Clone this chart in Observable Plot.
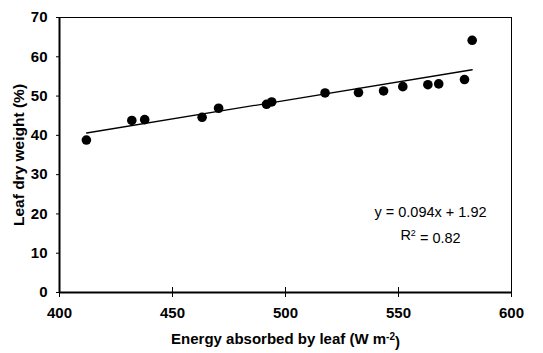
<!DOCTYPE html>
<html><head><meta charset="utf-8">
<script src="https://cdn.jsdelivr.net/npm/d3@7"></script>
<script src="https://cdn.jsdelivr.net/npm/@observablehq/plot@0.6"></script>
<style>body{margin:0;background:#fff}</style>
</head><body><div id="chart"></div>
<script>
const energy    = [411.9, 432.0, 437.7, 463.1, 470.4, 491.6, 493.9, 517.5, 532.3, 543.4, 551.9, 563.0, 567.8, 579.2, 582.6];
const dryWeight = [38.8, 43.8, 44.0, 44.6, 46.9, 47.9, 48.5, 50.8, 50.9, 51.3, 52.4, 52.9, 53.1, 54.2, 64.2];
const trendEnergy = [412.0, 582.6];
const trendWeight = [40.6, 56.7];
const xTicks = [400, 450, 500, 550, 600];
const yTicks = [0, 10, 20, 30, 40, 50, 60, 70];
const xTitle = "Energy absorbed by leaf (W m-2)";
const yTitle = "Leaf dry weight (%)";
const equationText = "y = 0.094x + 1.92";
const r2Text = "R2 = 0.82";

const points = energy.map((e, i) => ({energy: e, weight: dryWeight[i]}));
const trend = trendEnergy.map((e, i) => ({energy: e, weight: trendWeight[i]}));

const chart = Plot.plot({
  width: 543,
  height: 353,
  marginLeft: 59,
  marginRight: 32,
  marginTop: 17,
  marginBottom: 61,
  style: {fontFamily: "'Liberation Sans', Arial, sans-serif", fontSize: "14px", color: "#000", background: "#fff", overflow: "visible"},
  x: {domain: [xTicks[0], xTicks[xTicks.length - 1]]},
  y: {domain: [yTicks[0], yTicks[yTicks.length - 1]]},
  marks: [
    Plot.frame({stroke: "#000", strokeWidth: 1}),
    Plot.ruleX([xTicks[0]], {stroke: "#000", strokeWidth: 2}),
    Plot.ruleY([yTicks[0]], {stroke: "#000", strokeWidth: 2}),
    Plot.axisY(yTicks, {tickSize: 3, tickPadding: 9, fontWeight: "bold", fontSize: 15, label: null}),
    Plot.axisX(xTicks, {tickSize: 10, dy: -5, text: null, label: null}),
    Plot.axisX(xTicks, {tickSize: 0, tickPadding: 15, fontWeight: "bold", fontSize: 15, label: null}),
    Plot.line(trend, {x: "energy", y: "weight", stroke: "#000", strokeWidth: 1.3}),
    Plot.dot(points, {x: "energy", y: "weight", r: 4.8, fill: "#000", stroke: "none"}),
    Plot.text([xTitle], {frameAnchor: "bottom", dy: 47, textAnchor: "middle", lineAnchor: "middle", text: d => d, fontWeight: "bold", fontSize: 15}),
    Plot.text([yTitle], {frameAnchor: "left", dx: -40, rotate: -90, textAnchor: "middle", lineAnchor: "middle", text: d => d, fontWeight: "bold", fontSize: 15.5}),
    Plot.text([equationText], {frameAnchor: "bottom-right", dx: -81, dy: -80, textAnchor: "middle", lineAnchor: "middle", text: d => d, fontSize: 14.5}),
    Plot.text([r2Text], {frameAnchor: "bottom-right", dx: -81, dy: -57, textAnchor: "middle", lineAnchor: "middle", text: d => d, fontSize: 14.5})
  ]
});
document.getElementById("chart").appendChild(chart);

// superscripts
d3.select(chart).selectAll("text").each(function() {
  const t = this.textContent;
  if (t === xTitle) {
    const el = d3.select(this).text("Energy absorbed by leaf (W m");
    el.append("tspan").attr("dy", "-0.45em").attr("font-size", "10px").text("-2");
    el.append("tspan").attr("dy", "0.45em").text(")");
  } else if (t === r2Text) {
    const el = d3.select(this).text("R");
    el.append("tspan").attr("dy", "-0.5em").attr("font-size", "9px").text("2");
    el.append("tspan").attr("dy", "0.5em").text(" = 0.82");
  }
});
</script>
</body></html>
